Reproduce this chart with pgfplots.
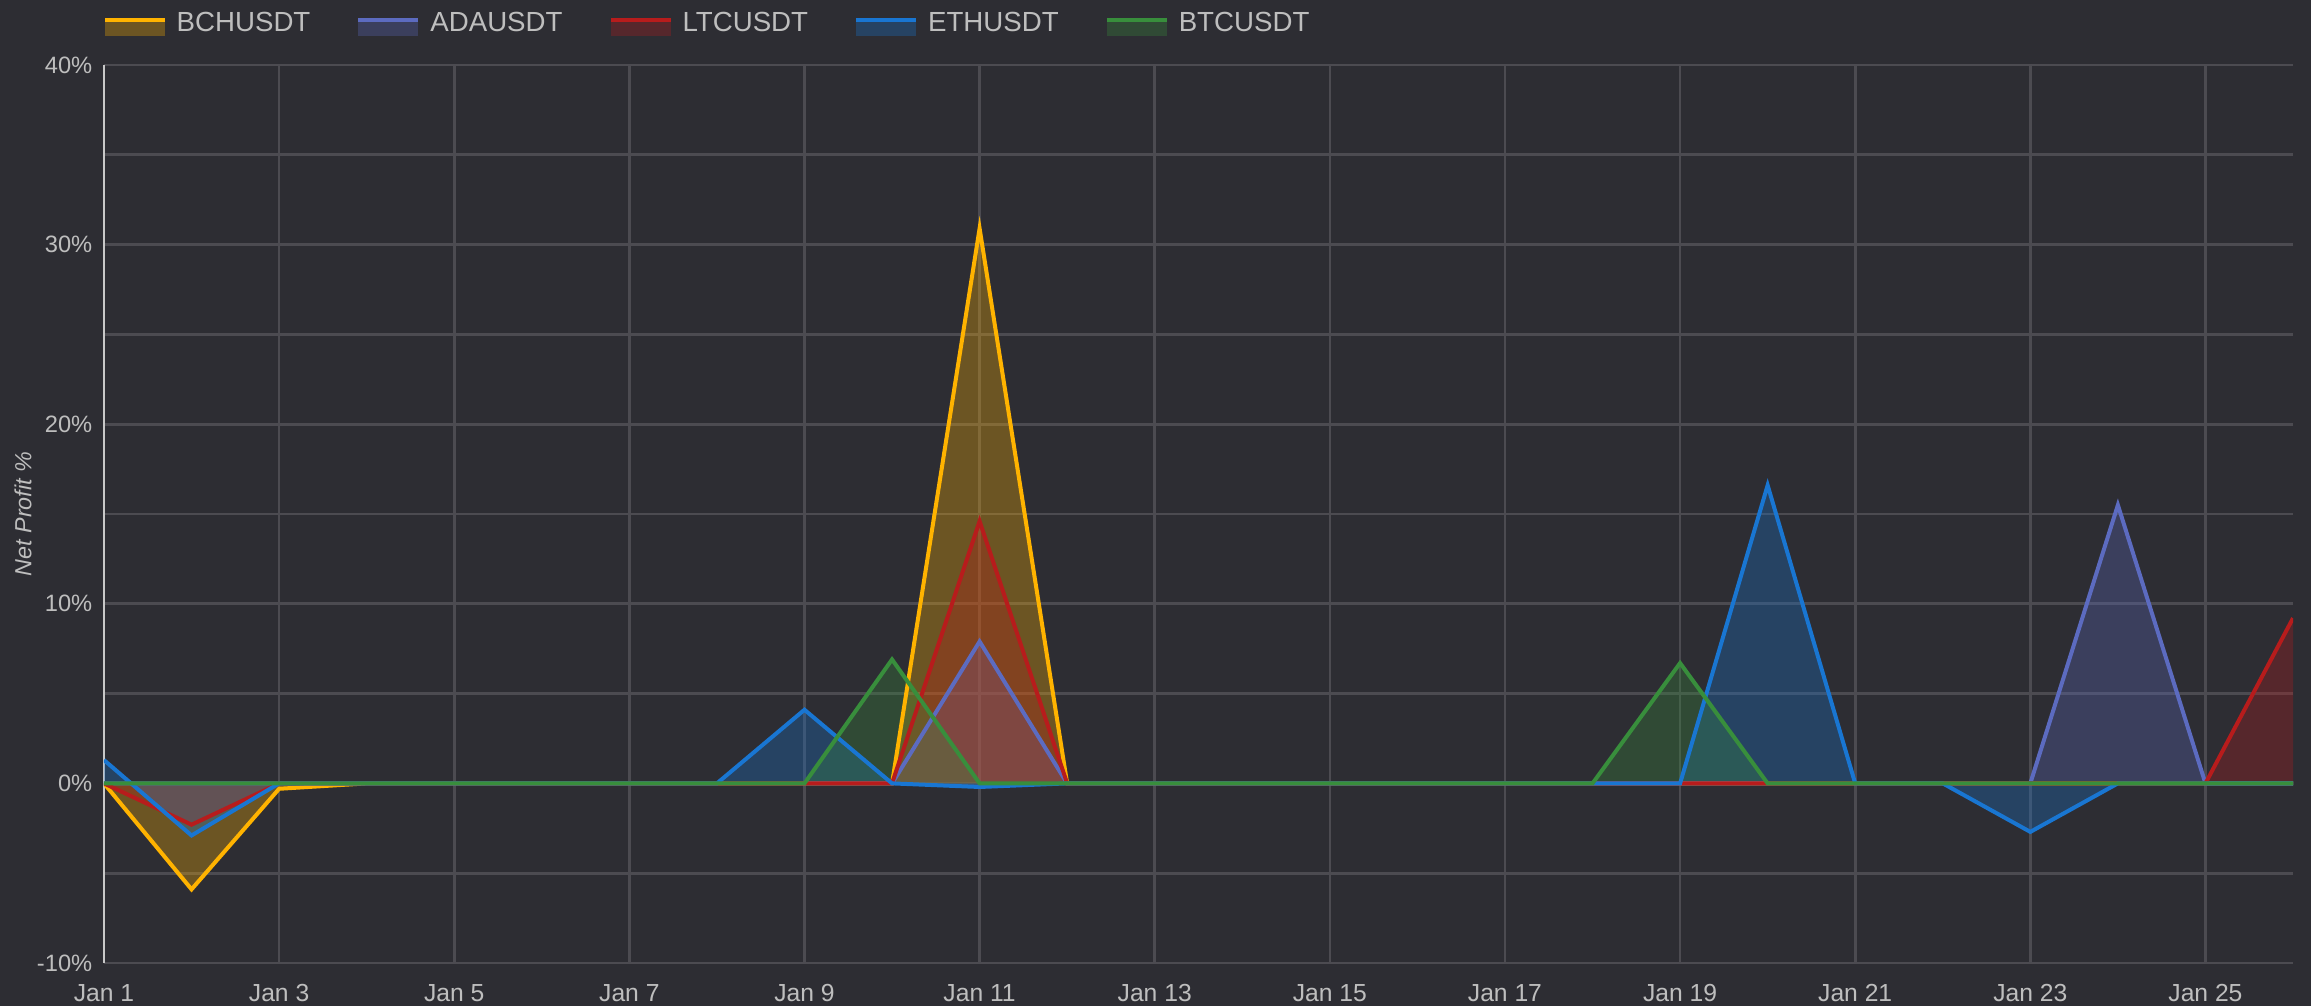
\documentclass[border=0pt]{standalone}
\usepackage{pgfplots}
\usepackage{pgfplotstable}
\pgfplotsset{compat=1.18}
\usepackage{fontspec}
\setmainfont{Liberation Sans}
\definecolor{bgc}{RGB}{45,45,51}
\definecolor{gridc}{RGB}{76,75,81}
\definecolor{txtc}{RGB}{190,190,190}
\definecolor{axc}{RGB}{200,200,200}
\definecolor{bchc}{RGB}{255,179,0}
\definecolor{adac}{RGB}{92,107,192}
\definecolor{ltcc}{RGB}{183,28,28}
\definecolor{ethc}{RGB}{25,118,210}
\definecolor{btcc}{RGB}{56,142,60}
\pgfplotstableread{
x bch ada ltc eth btc
0 0 0 0 1.3 0
1 -5.9 0 -2.3 -2.9 0
2 -0.3 0 0 0 0
3 0 0 0 0 0
4 0 0 0 0 0
5 0 0 0 0 0
6 0 0 0 0 0
7 0 0 0 0 0
8 0 0 0 4.1 0
9 0 0 0 0 6.9
10 30.9 7.9 14.6 -0.2 0
11 0 0 0 0 0
12 0 0 0 0 0
13 0 0 0 0 0
14 0 0 0 0 0
15 0 0 0 0 0
16 0 0 0 0 0
17 0 0 0 0 0
18 0 0 0 0 6.7
19 0 0 0 16.6 0
20 0 0 0 0 0
21 0 0 0 0 0
22 0 0 0 -2.7 0
23 0 15.5 0 0 0
24 0 0 0 0 0
25 0 0 9.2 0 0
}\datatable
\newcommand{\legsw}[1]{\addlegendimage{legend image code/.code={\fill[draw=none,fill=#1,fill opacity=0.3] (0pt,-3.6pt) rectangle (18pt,0.6pt);\fill[draw=none,fill=#1] (0pt,0.6pt) rectangle (18pt,1.8pt);}}}
\begin{document}
\begin{tikzpicture}
\fill[bgc] (-31.2pt,-12.9pt) rectangle (662.1pt,288.9pt);
\begin{axis}[
  scale only axis, width=656.7pt, height=269.4pt,
  xmin=0, xmax=25, ymin=-10, ymax=40,
  xtick={0,2,...,24},
  xticklabels={Jan 1,Jan 3,Jan 5,Jan 7,Jan 9,Jan 11,Jan 13,Jan 15,Jan 17,Jan 19,Jan 21,Jan 23,Jan 25},
  ytick={-10,0,10,20,30,40},
  yticklabels={-10\%,0\%,10\%,20\%,30\%,40\%},
  minor ytick={-5,5,15,25,35},
  xmajorgrids, ymajorgrids, yminorgrids,
  major grid style={draw=gridc, line width=0.8pt},
  minor grid style={draw=gridc, line width=0.8pt},
  axis lines=left,
  axis line style={-},
  x axis line style={draw=gridc, line width=0.8pt},
  y axis line style={draw=axc, line width=0.6pt},
  major tick length=0pt, minor tick length=0pt,
  tick style={draw=none},
  xticklabel style={font=\fontsize{7.4}{8}\selectfont, text=txtc, yshift=-3pt},
  yticklabel style={font=\fontsize{7.1}{8}\selectfont, text=txtc},
  ylabel={Net Profit \%},
  ylabel style={font=\fontsize{7}{8}\selectfont\itshape, text=txtc, at={(axis description cs:-0.037,0.5)}, anchor=center},
  legend style={at={(axis description cs:0,1)}, anchor=south west, yshift=6.4pt,
    draw=none, fill=none, text=txtc, inner sep=0pt,
    font=\fontsize{8.3}{10}\selectfont,
    /tikz/every odd column/.append style={column sep=1.6pt},
    /tikz/every even column/.append style={column sep=12.4pt}},
  legend columns=-1, legend cell align=left,
]
\legsw{bchc}\addlegendentry{BCHUSDT}
\legsw{adac}\addlegendentry{ADAUSDT}
\legsw{ltcc}\addlegendentry{LTCUSDT}
\legsw{ethc}\addlegendentry{ETHUSDT}
\legsw{btcc}\addlegendentry{BTCUSDT}
\addplot[draw=none, fill=bchc, fill opacity=0.3, forget plot] table[x=x,y=bch]{\datatable} \closedcycle;
\addplot[draw=none, fill=adac, fill opacity=0.3, forget plot] table[x=x,y=ada]{\datatable} \closedcycle;
\addplot[draw=none, fill=ltcc, fill opacity=0.3, forget plot] table[x=x,y=ltc]{\datatable} \closedcycle;
\addplot[draw=none, fill=ethc, fill opacity=0.3, forget plot] table[x=x,y=eth]{\datatable} \closedcycle;
\addplot[draw=none, fill=btcc, fill opacity=0.3, forget plot] table[x=x,y=btc]{\datatable} \closedcycle;
\addplot[bchc, line width=1.2pt, forget plot] table[x=x,y=bch]{\datatable};
\addplot[adac, line width=1.2pt, forget plot] table[x=x,y=ada]{\datatable};
\addplot[ltcc, line width=1.2pt, forget plot] table[x=x,y=ltc]{\datatable};
\addplot[ethc, line width=1.2pt, forget plot] table[x=x,y=eth]{\datatable};
\addplot[btcc, line width=1.2pt, forget plot] table[x=x,y=btc]{\datatable};
\end{axis}
\pgfresetboundingbox
\path (-31.2pt,-12.9pt) rectangle (662.1pt,288.9pt);
\end{tikzpicture}
\end{document}
